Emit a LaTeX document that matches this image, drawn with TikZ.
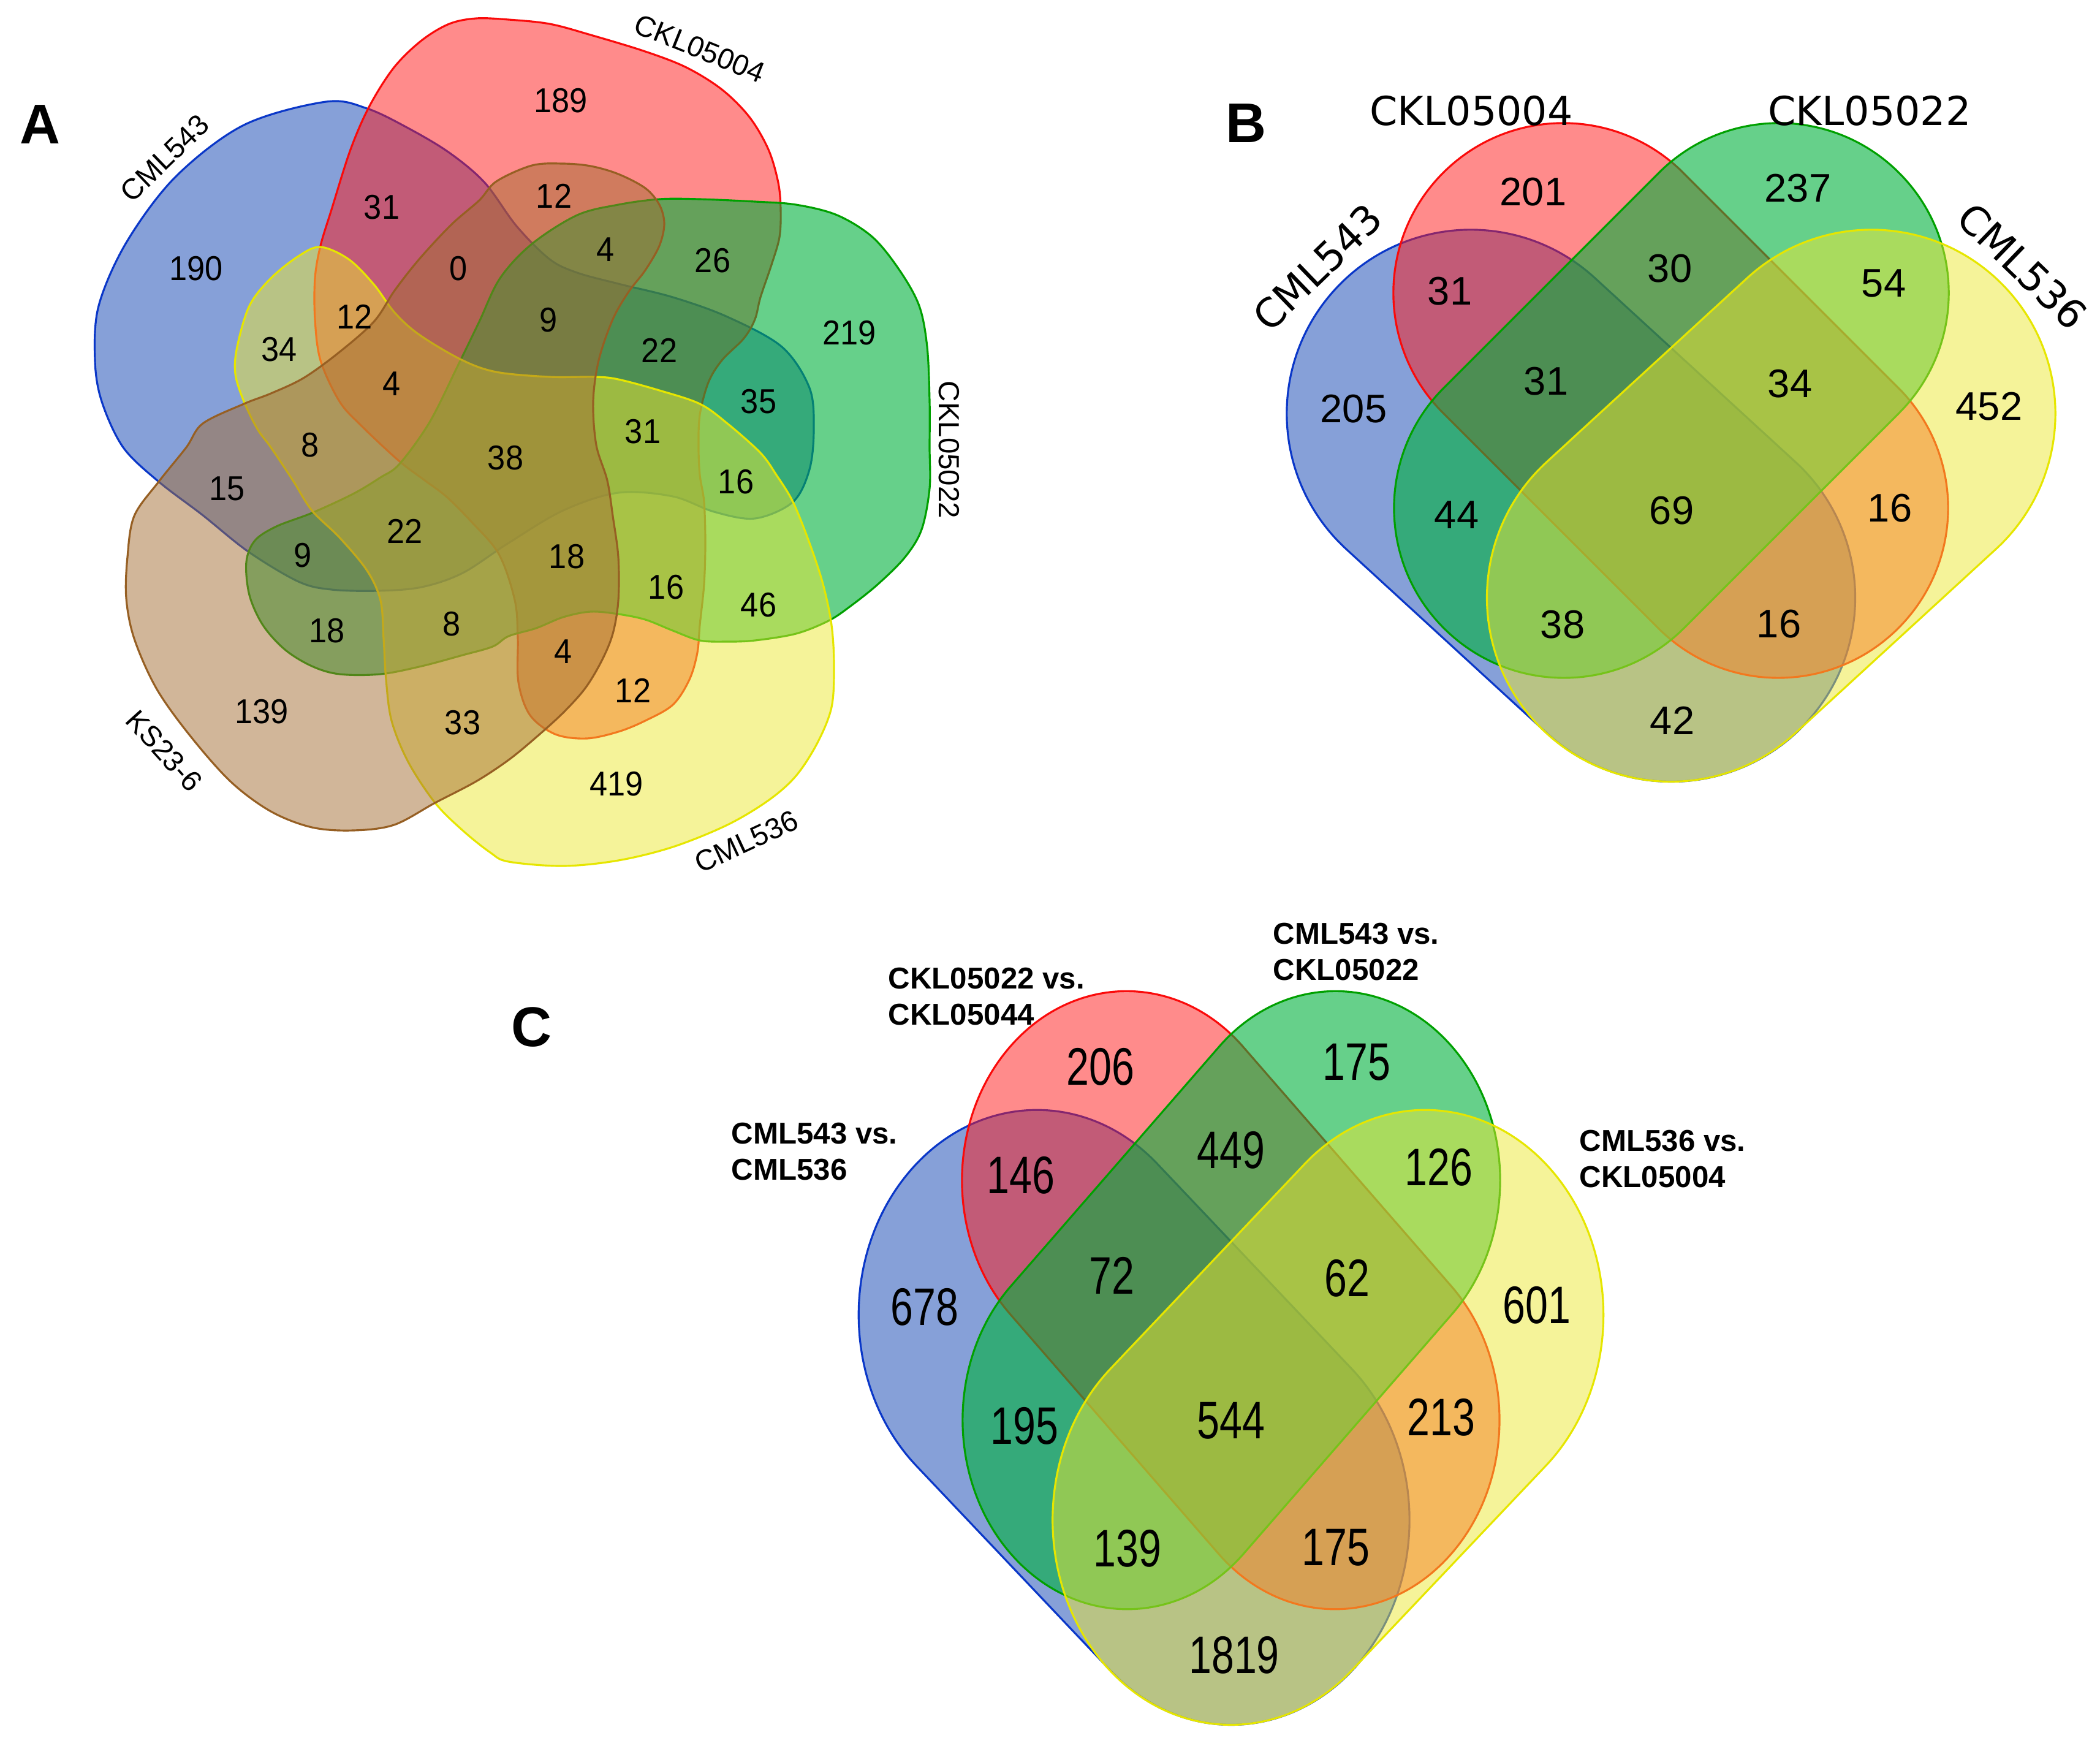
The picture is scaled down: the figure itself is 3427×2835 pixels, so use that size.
\documentclass[tikz,border=0pt]{standalone}
\usepackage{fontspec}
\setmainfont{Liberation Sans}
\newfontfamily\fnA[FakeStretch=0.93]{Liberation Sans}
\newfontfamily\fnC[FakeStretch=0.77]{Liberation Sans}
\newfontfamily\fnLab{DejaVu Sans}
\definecolor{bfill}{RGB}{13,65,177}
\definecolor{rfill}{RGB}{255,23,23}
\definecolor{gfill}{RGB}{0,177,60}
\definecolor{yfill}{RGB}{235,231,51}
\definecolor{nfill}{RGB}{163,109,51}
\definecolor{bline}{RGB}{10,55,200}
\definecolor{rline}{RGB}{250,10,10}
\definecolor{gline}{RGB}{0,160,0}
\definecolor{yline}{RGB}{230,230,0}
\definecolor{nline}{RGB}{150,95,35}
\tikzset{
  vb/.style={draw=bline, fill=bfill, fill opacity=0.5, line width=0.9pt},
  vr/.style={draw=rline, fill=rfill, fill opacity=0.5, line width=0.9pt},
  vg/.style={draw=gline, fill=gfill, fill opacity=0.6, line width=0.9pt},
  vy/.style={draw=yline, fill=yfill, fill opacity=0.5, line width=0.9pt},
  vn/.style={draw=nline, fill=nfill, fill opacity=0.5, line width=0.9pt},
  na/.style={font=\fnA\fontsize{16}{16}\selectfont, inner sep=0pt},
  nb/.style={font=\fontsize{18.5}{18.5}\selectfont, inner sep=0pt},
  nc/.style={font=\fnC\fontsize{24.5}{24.5}\selectfont, inner sep=0pt},
  la/.style={font=\fontsize{13.5}{13.5}\selectfont, inner sep=0pt},
  lb/.style={font=\fnLab\fontsize{18.5}{18.5}\selectfont, inner sep=0pt},
  lc/.style={font=\bfseries\fontsize{14}{17}\selectfont, align=left, inner sep=0pt, anchor=north west},
  panel/.style={font=\bfseries\fontsize{26}{26}\selectfont, inner sep=0pt},
}
% capsule: style, first end centre, angle, length (cm), radius (cm)
\newcommand{\vcapsule}[5]{%
  \path[#1, shift={#2}, rotate=#3] (0cm,-#5cm) -- (#4cm,-#5cm)
    arc[start angle=-90, end angle=90, radius=#5cm] -- (0cm,#5cm)
    arc[start angle=90, end angle=270, radius=#5cm] -- cycle;}
\newcommand{\vennfour}{%
  \vcapsule{vb}{(2400,675)}{-42.53}{4.44}{3.00}
  \vcapsule{vr}{(2551,478)}{-45}{4.96}{2.77}
  \vcapsule{vg}{(2903,478)}{-135}{4.96}{2.77}
  \vcapsule{vy}{(3054,675)}{-137.47}{4.44}{3.00}}
\begin{document}
\begin{tikzpicture}[x=0.01cm, y=-0.01cm]
\useasboundingbox (0,0) rectangle (3427,2835);

% ---------------- Panel A (five sets) ----------------
\draw[vb] plot[smooth cycle, tension=0.55] coordinates {
 (155,588) (161,499) (206,396) (286,289) (398,204) (532,166) (599,177) (666,209)
 (733,249) (791,298) (843,369) (897,423) (942,445) (1009,463) (1098,485) (1187,517)
 (1276,566) (1321,633) (1328,700) (1321,766) (1294,819) (1232,846) (1165,835)
 (1098,810) (1009,804) (919,833) (830,886) (755,935) (688,958) (617,964) (541,962)
 (487,949) (405,900) (330,840) (259,786) (201,730) (166,655)};
\draw[vr] plot[smooth cycle, tension=0.55] coordinates {
 (523,401) (514,454) (514,521) (523,588) (554,655) (590,695) (651,752) (692,783)
 (728,810) (768,850) (814,904) (840,979) (845,1040) (846,1113) (865,1167) (906,1198)
 (957,1205) (1009,1194) (1053,1176) (1098,1150) (1125,1109) (1138,1065) (1142,1020)
 (1149,953) (1151,886) (1149,819) (1142,775) (1140,730) (1142,677) (1156,624)
 (1178,588) (1214,552) (1232,521) (1241,485) (1259,432) (1272,387) (1274,342)
 (1270,298) (1254,244) (1223,191) (1178,146) (1120,110) (1053,84) (964,57) (897,39)
 (830,32) (777,30) (733,39) (688,66) (643,110) (603,173) (572,244) (541,342)};
\draw[vg] plot[smooth cycle, tension=0.55] coordinates {
 (402,917) (416,882) (451,859) (509,837) (576,806) (621,779) (652,757) (701,689)
 (747,597) (782,525) (816,454) (868,398) (942,351) (1009,334) (1076,325) (1142,325)
 (1232,329) (1299,334) (1366,351) (1424,387) (1468,441) (1500,499) (1513,566)
 (1517,655) (1517,730) (1517,797) (1504,864) (1477,909) (1433,953) (1388,989)
 (1352,1013) (1299,1034) (1232,1045) (1187,1047) (1142,1045) (1098,1029) (1053,1011)
 (1009,1002) (964,998) (919,1007) (875,1025) (830,1038) (804,1055) (755,1069)
 (688,1087) (621,1100) (554,1100) (509,1087) (465,1060) (429,1020) (407,971)};
\draw[vy] plot[smooth cycle, tension=0.55] coordinates {
 (523,403) (569,423) (610,464) (644,510) (684,546) (753,587) (810,607) (897,615)
 (971,615) (1009,619) (1076,637) (1142,659) (1187,691) (1241,739) (1267,775)
 (1294,819) (1321,886) (1343,953) (1357,1020) (1361,1087) (1357,1154) (1334,1212)
 (1299,1266) (1254,1306) (1187,1346) (1098,1382) (1009,1404) (919,1413) (830,1406)
 (800,1391) (755,1355) (710,1310) (666,1243) (639,1176) (630,1109) (626,1042)
 (621,980) (599,931) (554,877) (509,833) (478,784) (442,730) (420,700) (398,655)
 (384,610) (387,566) (407,499) (442,454) (487,418)};
\draw[vn] plot[smooth cycle, tension=0.55] coordinates {
 (259,786) (304,730) (331,691) (398,659) (442,642) (495,617) (552,576) (610,525)
 (644,474) (684,423) (736,367) (782,327) (810,296) (868,270) (919,267) (964,271)
 (1009,284) (1053,307) (1076,334) (1084,365) (1076,401) (1053,441) (1026,476)
 (1000,521) (977,588) (968,655) (973,726) (991,784) (1000,842) (1009,909) (1009,980)
 (1000,1034) (982,1078) (955,1123) (919,1163) (875,1203) (830,1240) (777,1275)
 (710,1310) (643,1346) (576,1355) (509,1350) (442,1324) (376,1275) (309,1199)
 (255,1123) (219,1042) (206,976) (208,909) (219,842)};

\foreach \x/\y/\t [count=\i] in {320/438/190, 915/164/189, 1386/543/219, 1006/1279/419,
  427/1161/139, 623/338/31, 904/320/12, 988/407/4, 1163/425/26, 748/438/0, 579/517/12,
  456/570/34, 895/522/9, 1076/572/22, 1238/655/35, 639/626/4, 506/726/8, 371/797/15,
  825/747/38, 1049/704/31, 1201/786/16, 494/906/9, 661/867/22, 925/908/18, 1087/958/16,
  1238/987/46, 534/1029/18, 737/1018/8, 919/1063/4, 1033/1127/12, 755/1179/33}
  \node[na] (a\i) at (\x,\y) {\t};

\node[la, rotate=44] (labA1) at (269,258) {CML543};
\node[la, rotate=-22] (labA2) at (1142,79) {CKL05004};
\node[la, rotate=-90] (labA3) at (1549,734) {CKL05022};
\node[la, rotate=25] (labA4) at (1218,1373) {CML536};
\node[la, rotate=-48] (labA5) at (268,1225) {KS23-6};
\node[panel] (pA) at (66,203) {A};

% ---------------- Panel B (four sets) ----------------
\vennfour
\foreach \x/\y/\t [count=\i] in {2502/313/201, 2934/307/237, 2366/475/31, 2725/438/30,
  3074/462/54, 2209/667/205, 2523/622/31, 2921/626/34, 3246/663/452, 2377/840/44,
  2728/833/69, 3084/829/16, 2550/1019/38, 2903/1018/16, 2729/1176/42}
  \node[nb] (b\i) at (\x,\y) {\t};
\node[lb] (labB1) at (2401,181) {CKL05004};
\node[lb] (labB2) at (3051,181) {CKL05022};
\node[lb, rotate=44] (labB3) at (2150,436) {CML543};
\node[lb, rotate=-44] (labB4) at (3300,434) {CML536};
\node[panel] (pB) at (2033,201) {B};

% ---------------- Panel C (four sets) ----------------
\begin{scope}[shift={(-633.5,1393.6)}, xscale=0.969, yscale=1.114]
  \vennfour
\end{scope}
\foreach \x/\y/\t [count=\i] in {1796/1741/206, 2214/1733/175, 1666/1918/146,
  2009/1877/449, 2348/1905/126, 1509/2133/678, 1814/2081/72, 2198/2086/62,
  2508/2130/601, 1672/2327/195, 2009/2318/544, 2352/2313/213, 1840/2527/139,
  2180/2525/175, 2014/2701/1819}
  \node[nc] (c\i) at (\x,\y) {\t};
\node[lc] (labC1) at (1449,1578) {CKL05022 vs.\\CKL05044};
\node[lc] (labC2) at (2077,1505) {CML543 vs.\\CKL05022};
\node[lc] (labC3) at (1193,1831) {CML543 vs.\\CML536};
\node[lc] (labC4) at (2577,1843) {CML536 vs.\\CKL05004};
\node[panel] (pC) at (868,1676) {C};
\end{tikzpicture}
\end{document}
